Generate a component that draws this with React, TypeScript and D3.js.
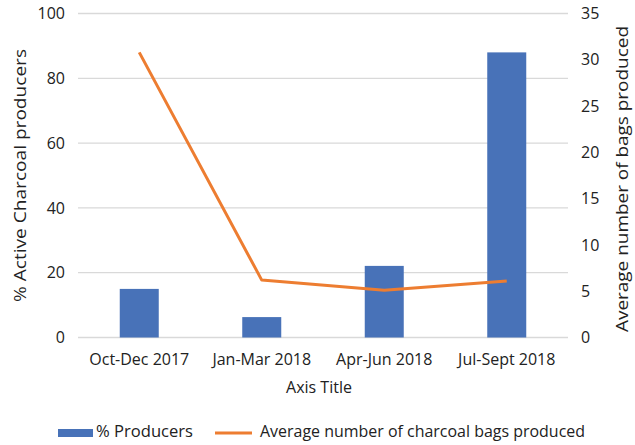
import React from "react";
import * as d3 from "d3";

const categories = ["Oct-Dec 2017", "Jan-Mar 2018", "Apr-Jun 2018", "Jul-Sept 2018"];
const producersPct = [15, 6.3, 22.1, 88];
const avgBags = [30.8, 6.2, 5.1, 6.1];
const leftTicks = [0, 20, 40, 60, 80, 100];
const rightTicks = [0, 5, 10, 15, 20, 25, 30, 35];

const W = 635;
const H = 445;
const FONT = "'Open Sans', sans-serif";

export default function App() {
  const left = 78, right = 568, top = 13.5, bottom = 337.5;
  const x = d3.scaleBand<string>().domain(categories).range([left, right]);
  const yL = d3.scaleLinear().domain([0, 100]).range([bottom, top]);
  const yR = d3.scaleLinear().domain([0, 35]).range([bottom, top]);
  const barW = 39;
  const cx = (c: string) => (x(c) as number) + x.bandwidth() / 2;
  const line = d3
    .line<number>()
    .x((_, i) => cx(categories[i]))
    .y((d) => yR(d));

  return (
    <svg width={W} height={H} style={{ position: "absolute", left: 0, top: 0, fontFamily: FONT }}>
      <rect x={0} y={0} width={W} height={H} fill="#fff" />
      {leftTicks.map((t) => (
        <line key={t} x1={left} x2={right} y1={yL(t)} y2={yL(t)} stroke="#d9d9d9" strokeWidth={1.3} />
      ))}
      {leftTicks.map((t) => (
        <text key={t} x={65} y={yL(t)} dy="0.35em" textAnchor="end" fontSize={16} fill="#222">
          {t}
        </text>
      ))}
      {rightTicks.map((t) => (
        <text key={t} x={581} y={yR(t)} dy="0.35em" textAnchor="start" fontSize={16} fill="#222">
          {t}
        </text>
      ))}
      {categories.map((c, i) => (
        <rect
          key={c}
          x={cx(c) - barW / 2}
          y={yL(producersPct[i])}
          width={barW}
          height={bottom - yL(producersPct[i])}
          fill="#4872b8"
        />
      ))}
      <path d={line(avgBags) || ""} fill="none" stroke="#ed7d31" strokeWidth={3} strokeLinejoin="round" />
      {categories.map((c) => (
        <text key={c} x={cx(c)} y={365} textAnchor="middle" fontSize={16} fill="#222">
          {c}
        </text>
      ))}
      <text x={319} y={393} textAnchor="middle" fontSize={16} fill="#222">
        Axis Title
      </text>
      <text
        transform={`translate(26,175.5) rotate(-90)`}
        textAnchor="middle"
        fontSize={17}
        textLength={253}
        lengthAdjust="spacingAndGlyphs"
        fill="#222"
      >
        % Active Charcoal producers
      </text>
      <text
        transform={`translate(628,179) rotate(-90)`}
        textAnchor="middle"
        fontSize={17}
        textLength={306}
        lengthAdjust="spacingAndGlyphs"
        fill="#222"
      >
        Average number of bags produced
      </text>
      <rect x={58} y={429} width={35} height={8} fill="#4872b8" />
      <text x={96} y={437} fontSize={16} textLength={97} lengthAdjust="spacingAndGlyphs" fill="#222">% Producers</text>
      <line x1={215} x2={252} y1={433} y2={433} stroke="#ed7d31" strokeWidth={3} />
      <text x={260} y={437} fontSize={16} textLength={325} lengthAdjust="spacingAndGlyphs" fill="#222">Average number of charcoal bags produced</text>
    </svg>
  );
}
